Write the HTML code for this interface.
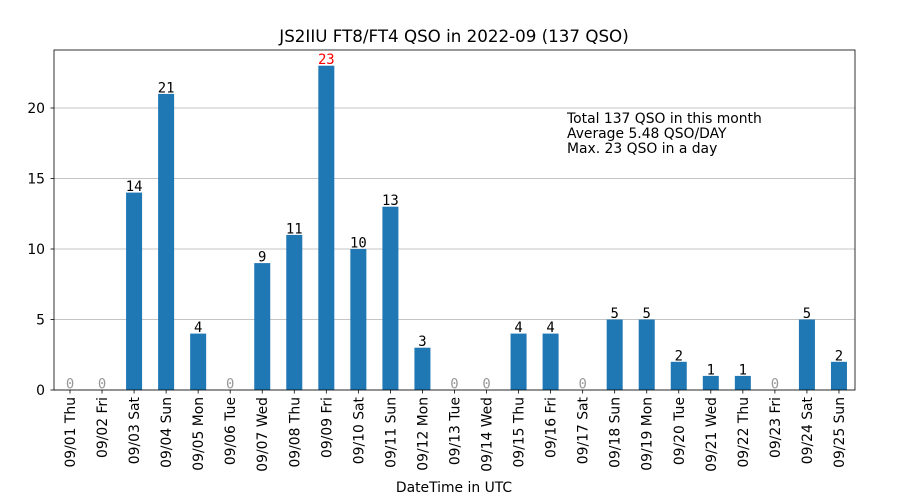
<!DOCTYPE html>
<html><head><meta charset="utf-8"><style>body{margin:0;background:#fff}svg{display:block}</style></head>
<body>
<svg width="900" height="500" xmlns="http://www.w3.org/2000/svg" font-family="DejaVu Sans, Liberation Sans, sans-serif">
<rect width="900" height="500" fill="#fff"/>
<text x="454" y="42" font-size="16.7" text-anchor="middle">JS2IIU FT8/FT4 QSO in 2022-09 (137 QSO)</text>
<g stroke="#b0b0b0" stroke-width="0.8">
<line x1="54" x2="855" y1="390" y2="390"/>
<line x1="54" x2="855" y1="319.5" y2="319.5"/>
<line x1="54" x2="855" y1="249" y2="249"/>
<line x1="54" x2="855" y1="178.5" y2="178.5"/>
<line x1="54" x2="855" y1="108" y2="108"/>
</g>
<g font-size="13.9" text-anchor="end">
<text x="45" y="395">0</text><text x="45" y="324.5">5</text><text x="45" y="254">10</text><text x="45" y="183.5">15</text><text x="45" y="113">20</text>
</g>
<g stroke="#000" stroke-width="0.8">
<line x1="50.5" x2="54" y1="390" y2="390"/><line x1="50.5" x2="54" y1="319.5" y2="319.5"/><line x1="50.5" x2="54" y1="249" y2="249"/><line x1="50.5" x2="54" y1="178.5" y2="178.5"/><line x1="50.5" x2="54" y1="108" y2="108"/>
</g>
<g fill="#1f77b4">
<rect x="126.08" y="192.6" width="16" height="197.4"/>
<rect x="158.12" y="93.9" width="16" height="296.1"/>
<rect x="190.16" y="333.6" width="16" height="56.4"/>
<rect x="254.24" y="263.1" width="16" height="126.9"/>
<rect x="286.28" y="234.9" width="16" height="155.1"/>
<rect x="318.32" y="65.7" width="16" height="324.3"/>
<rect x="350.36" y="249" width="16" height="141"/>
<rect x="382.4" y="206.7" width="16" height="183.3"/>
<rect x="414.44" y="347.7" width="16" height="42.3"/>
<rect x="510.56" y="333.6" width="16" height="56.4"/>
<rect x="542.6" y="333.6" width="16" height="56.4"/>
<rect x="606.68" y="319.5" width="16" height="70.5"/>
<rect x="638.72" y="319.5" width="16" height="70.5"/>
<rect x="670.76" y="361.8" width="16" height="28.2"/>
<rect x="702.8" y="375.9" width="16" height="14.1"/>
<rect x="734.84" y="375.9" width="16" height="14.1"/>
<rect x="798.92" y="319.5" width="16" height="70.5"/>
<rect x="830.96" y="361.8" width="16" height="28.2"/>
</g>
<g font-family="DejaVu Sans Mono, Liberation Mono, monospace" font-size="13.9" text-anchor="middle">
<text x="70" y="388.5" fill="#999">0</text>
<text x="102.04" y="388.5" fill="#999">0</text>
<text x="134.08" y="191.1">14</text>
<text x="166.12" y="92.4">21</text>
<text x="198.16" y="332.1">4</text>
<text x="230.2" y="388.5" fill="#999">0</text>
<text x="262.24" y="261.6">9</text>
<text x="294.28" y="233.4">11</text>
<text x="326.32" y="64.2" fill="red">23</text>
<text x="358.36" y="247.5">10</text>
<text x="390.4" y="205.2">13</text>
<text x="422.44" y="346.2">3</text>
<text x="454.48" y="388.5" fill="#999">0</text>
<text x="486.52" y="388.5" fill="#999">0</text>
<text x="518.56" y="332.1">4</text>
<text x="550.6" y="332.1">4</text>
<text x="582.64" y="388.5" fill="#999">0</text>
<text x="614.68" y="318">5</text>
<text x="646.72" y="318">5</text>
<text x="678.76" y="360.3">2</text>
<text x="710.8" y="374.4">1</text>
<text x="742.84" y="374.4">1</text>
<text x="774.88" y="388.5" fill="#999">0</text>
<text x="806.92" y="318">5</text>
<text x="838.96" y="360.3">2</text>
</g>
<g stroke="#000" stroke-width="0.8">
<line x1="70" x2="70" y1="390" y2="393.5"/><line x1="102.04" x2="102.04" y1="390" y2="393.5"/><line x1="134.08" x2="134.08" y1="390" y2="393.5"/><line x1="166.12" x2="166.12" y1="390" y2="393.5"/><line x1="198.16" x2="198.16" y1="390" y2="393.5"/><line x1="230.2" x2="230.2" y1="390" y2="393.5"/><line x1="262.24" x2="262.24" y1="390" y2="393.5"/><line x1="294.28" x2="294.28" y1="390" y2="393.5"/><line x1="326.32" x2="326.32" y1="390" y2="393.5"/><line x1="358.36" x2="358.36" y1="390" y2="393.5"/><line x1="390.4" x2="390.4" y1="390" y2="393.5"/><line x1="422.44" x2="422.44" y1="390" y2="393.5"/><line x1="454.48" x2="454.48" y1="390" y2="393.5"/><line x1="486.52" x2="486.52" y1="390" y2="393.5"/><line x1="518.56" x2="518.56" y1="390" y2="393.5"/><line x1="550.6" x2="550.6" y1="390" y2="393.5"/><line x1="582.64" x2="582.64" y1="390" y2="393.5"/><line x1="614.68" x2="614.68" y1="390" y2="393.5"/><line x1="646.72" x2="646.72" y1="390" y2="393.5"/><line x1="678.76" x2="678.76" y1="390" y2="393.5"/><line x1="710.8" x2="710.8" y1="390" y2="393.5"/><line x1="742.84" x2="742.84" y1="390" y2="393.5"/><line x1="774.88" x2="774.88" y1="390" y2="393.5"/><line x1="806.92" x2="806.92" y1="390" y2="393.5"/><line x1="838.96" x2="838.96" y1="390" y2="393.5"/>
</g>
<g font-size="13.9" text-anchor="end">
<text transform="translate(75,397) rotate(-90)">09/01 Thu</text>
<text transform="translate(107.04,397) rotate(-90)">09/02 Fri</text>
<text transform="translate(139.08,397) rotate(-90)">09/03 Sat</text>
<text transform="translate(171.12,397) rotate(-90)">09/04 Sun</text>
<text transform="translate(203.16,397) rotate(-90)">09/05 Mon</text>
<text transform="translate(235.2,397) rotate(-90)">09/06 Tue</text>
<text transform="translate(267.24,397) rotate(-90)">09/07 Wed</text>
<text transform="translate(299.28,397) rotate(-90)">09/08 Thu</text>
<text transform="translate(331.32,397) rotate(-90)">09/09 Fri</text>
<text transform="translate(363.36,397) rotate(-90)">09/10 Sat</text>
<text transform="translate(395.4,397) rotate(-90)">09/11 Sun</text>
<text transform="translate(427.44,397) rotate(-90)">09/12 Mon</text>
<text transform="translate(459.48,397) rotate(-90)">09/13 Tue</text>
<text transform="translate(491.52,397) rotate(-90)">09/14 Wed</text>
<text transform="translate(523.56,397) rotate(-90)">09/15 Thu</text>
<text transform="translate(555.6,397) rotate(-90)">09/16 Fri</text>
<text transform="translate(587.64,397) rotate(-90)">09/17 Sat</text>
<text transform="translate(619.68,397) rotate(-90)">09/18 Sun</text>
<text transform="translate(651.72,397) rotate(-90)">09/19 Mon</text>
<text transform="translate(683.76,397) rotate(-90)">09/20 Tue</text>
<text transform="translate(715.8,397) rotate(-90)">09/21 Wed</text>
<text transform="translate(747.84,397) rotate(-90)">09/22 Thu</text>
<text transform="translate(779.88,397) rotate(-90)">09/23 Fri</text>
<text transform="translate(811.92,397) rotate(-90)">09/24 Sat</text>
<text transform="translate(843.96,397) rotate(-90)">09/25 Sun</text>
</g>
<rect x="54" y="50" width="801" height="340" fill="none" stroke="#000" stroke-width="0.8"/>
<g font-size="13.9">
<text x="567" y="123">Total 137 QSO in this month</text>
<text x="567" y="138">Average 5.48 QSO/DAY</text>
<text x="567" y="153">Max. 23 QSO in a day</text>
</g>
<text x="454" y="492" font-size="13.9" text-anchor="middle">DateTime in UTC</text>
</svg>
</body></html>
